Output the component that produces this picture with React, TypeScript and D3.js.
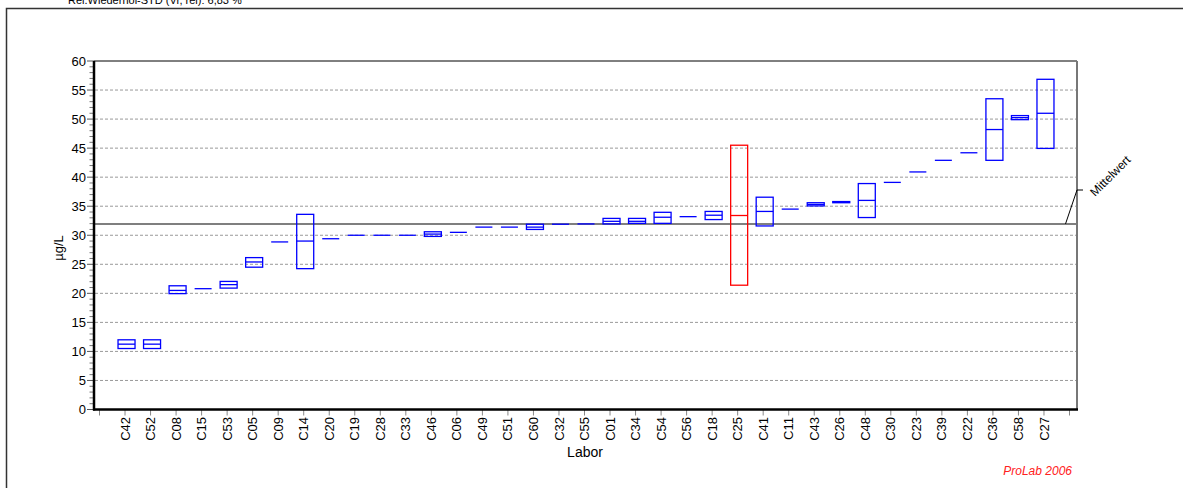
import * as d3 from "d3";
import React, { useEffect, useRef } from "react";

// Labore in der Reihenfolge der Grafik
const labs = ["C42", "C52", "C08", "C15", "C53", "C05", "C09", "C14", "C20", "C19", "C28", "C33", "C46", "C06", "C49", "C51", "C60", "C32", "C55", "C01", "C34", "C54", "C56", "C18", "C25", "C41", "C11", "C43", "C26", "C48", "C30", "C23", "C39", "C22", "C36", "C58", "C27"];
// untere Kante, Mittellinie, obere Kante (µg/L)
const lowValues = [10.5, 10.5, 19.95, 20.8, 20.9, 24.5, 28.85, 24.25, 29.4, 30.0, 30.0, 30.0, 29.8, 30.5, 31.4, 31.4, 31.0, 31.9, 31.95, 31.95, 32.05, 32.05, 33.2, 32.7, 21.4, 31.6, 34.5, 35.05, 35.6, 33.05, 39.1, 40.9, 42.9, 44.2, 42.9, 49.9, 44.95];
const midValues = [11.25, 11.25, 20.5, 20.8, 21.5, 25.4, 28.85, 29.0, 29.4, 30.0, 30.0, 30.0, 30.2, 30.5, 31.4, 31.4, 31.4, 31.9, 31.95, 32.4, 32.4, 33.1, 33.2, 33.45, 33.4, 34.1, 34.5, 35.3, 35.7, 36.0, 39.1, 40.9, 42.9, 44.2, 48.2, 50.25, 51.0];
const highValues = [12.0, 12.0, 21.3, 20.8, 22.05, 26.15, 28.85, 33.6, 29.4, 30.0, 30.0, 30.0, 30.6, 30.5, 31.4, 31.4, 31.9, 31.9, 31.95, 32.9, 32.9, 33.95, 33.2, 34.1, 45.5, 36.55, 34.5, 35.6, 35.8, 38.9, 39.1, 40.9, 42.9, 44.2, 53.5, 50.6, 56.85];
const flaggedLabs = ["C25"];
const meanValue = 31.95;
const yTicks = [0, 5, 10, 15, 20, 25, 30, 35, 40, 45, 50, 55, 60];

const App = () => {
  const svgRef = useRef<SVGSVGElement>(null);

  useEffect(() => {
    const svg = d3.select(svgRef.current);
    svg.selectAll("*").remove();

    const left = 94, right = 1077, top = 61, bottom = 409.5;

    const x = d3.scaleLinear().domain([0, labs.length + 1]).range([101, 1071]);
    const y = d3.scaleLinear().domain([0, 60]).range([bottom, top]);

    // äußerer Rahmen
    svg.append("path")
      .attr("d", `M6.5,488 L6.5,8.5 L1183,8.5`)
      .attr("fill", "none").attr("stroke", "#333").attr("stroke-width", 1.5);

    svg.append("text")
      .attr("x", 68).attr("y", 4)
      .style("font-size", "11px").style("fill", "#000")
      .text("Rel.Wiederhol-STD (Vr, rel): 6,83 %");

    // Gitterlinien
    svg.append("g").selectAll("line")
      .data(yTicks.filter((t) => t > 0 && t < 60))
      .enter().append("line")
      .attr("x1", left + 1).attr("x2", right - 1)
      .attr("y1", (d) => y(d)).attr("y2", (d) => y(d))
      .attr("stroke", "#999").attr("stroke-width", 1)
      .attr("stroke-dasharray", "3,2");

    // Mittelwert
    svg.append("line")
      .attr("x1", left).attr("x2", right)
      .attr("y1", y(meanValue)).attr("y2", y(meanValue))
      .attr("stroke", "#555").attr("stroke-width", 1.5);

    // Rahmen des Diagramms
    svg.append("line").attr("x1", left).attr("x2", right).attr("y1", top).attr("y2", top)
      .attr("stroke", "#000").attr("stroke-width", 1);
    svg.append("line").attr("x1", right).attr("x2", right).attr("y1", top).attr("y2", bottom)
      .attr("stroke", "#777").attr("stroke-width", 2);

    // y-Achse
    const minor = d3.range(0, 61, 1).filter((v) => v % 5 !== 0);
    svg.append("g").selectAll("line").data(minor).enter().append("line")
      .attr("x1", left - 4.5).attr("x2", left)
      .attr("y1", (d) => y(d)).attr("y2", (d) => y(d))
      .attr("stroke", "#777").attr("stroke-width", 1);
    svg.append("g").selectAll("line").data(yTicks).enter().append("line")
      .attr("x1", left - 7).attr("x2", left)
      .attr("y1", (d) => y(d)).attr("y2", (d) => y(d))
      .attr("stroke", "#555").attr("stroke-width", 1);
    svg.append("g").selectAll("text").data(yTicks).enter().append("text")
      .attr("x", left - 8).attr("y", (d) => y(d)).attr("dy", "0.35em")
      .attr("text-anchor", "end")
      .style("font-size", "13px").style("fill", "#000")
      .text((d) => d);
    svg.append("line").attr("x1", left).attr("x2", left).attr("y1", top).attr("y2", bottom + 1)
      .attr("stroke", "#000").attr("stroke-width", 2.5);

    svg.append("text")
      .attr("transform", `translate(63,248) rotate(-90)`)
      .attr("text-anchor", "middle")
      .style("font-size", "13px").style("fill", "#000")
      .text("µg/L");

    // x-Achse
    const xTicks = d3.range(0, labs.length + 2);
    svg.append("g").selectAll("line").data(xTicks).enter().append("line")
      .attr("x1", (d) => x(d) - 1.5).attr("x2", (d) => x(d) - 1.5)
      .attr("y1", bottom).attr("y2", bottom + 6)
      .attr("stroke", "#888").attr("stroke-width", 1);
    svg.append("line").attr("x1", left - 1).attr("x2", right + 1).attr("y1", bottom).attr("y2", bottom)
      .attr("stroke", "#000").attr("stroke-width", 2.5);
    svg.append("g").selectAll("text").data(labs).enter().append("text")
      .attr("transform", (_, i) => `translate(${x(i + 1) - 1.5},417) rotate(-90)`)
      .attr("text-anchor", "end").attr("dy", "0.35em")
      .style("font-size", "13px").style("fill", "#000")
      .text((d) => d);
    svg.append("text")
      .attr("x", 585).attr("y", 457)
      .attr("text-anchor", "middle")
      .style("font-size", "14px").style("fill", "#000")
      .text("Labor");

    // Kästchen je Labor
    const halfWidth = 8.5;
    const boxes = svg.append("g");
    labs.forEach((lab, i) => {
      const color = flaggedLabs.includes(lab) ? "#ff0000" : "#0000ff";
      const cx = x(i + 1);
      if (highValues[i] > lowValues[i]) {
        boxes.append("rect")
          .attr("x", cx - halfWidth).attr("width", halfWidth * 2)
          .attr("y", y(highValues[i]))
          .attr("height", y(lowValues[i]) - y(highValues[i]))
          .attr("fill", "none").attr("stroke", color).attr("stroke-width", 1.3);
      }
      boxes.append("line")
        .attr("x1", cx - halfWidth).attr("x2", cx + halfWidth)
        .attr("y1", y(midValues[i])).attr("y2", y(midValues[i]))
        .attr("stroke", color).attr("stroke-width", 1.3);
    });

    // Beschriftung Mittelwert
    svg.append("path")
      .attr("d", `M1065.5,${y(meanValue)} L1077,190 L1083,190`)
      .attr("fill", "none").attr("stroke", "#000").attr("stroke-width", 1);
    svg.append("text")
      .attr("transform", "translate(1095,197) rotate(-45)")
      .style("font-size", "12px").style("fill", "#000")
      .text("Mittelwert");

    svg.append("text")
      .attr("x", 1072).attr("y", 475)
      .attr("text-anchor", "end")
      .style("font-size", "12px").style("font-style", "italic").style("fill", "#ff2020")
      .text("ProLab 2006");
  }, []);

  return (
    <svg
      ref={svgRef}
      width={1183}
      height={488}
      style={{ position: "absolute", left: 0, top: 0, background: "#fff", fontFamily: "'Liberation Sans', Arial, sans-serif" }}
    />
  );
};

export default App;
